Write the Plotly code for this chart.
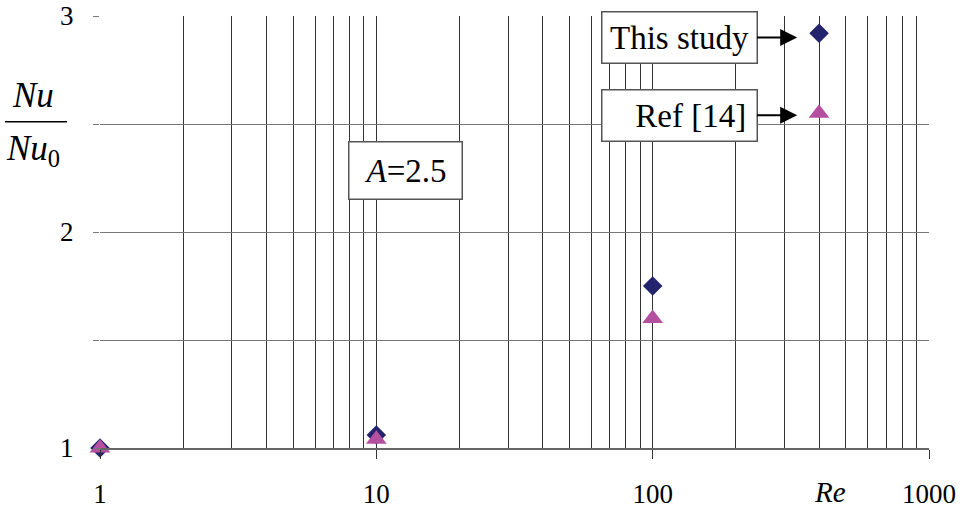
import plotly.graph_objects as go

# Data
re_vals = [1, 10, 100, 400]
nu_this_study = [1.0, 1.06, 1.75, 2.92]
nu_ref14 = [1.0, 1.04, 1.60, 2.55]
x_tick_vals = [1, 10, 100, 1000]
x_tick_text = ["1", "10", "100", "1000"]
y_tick_vals = [1, 1.5, 2, 2.5, 3]
y_tick_text = ["1", " ", "2", " ", "3"]
minor_x = [m * d for d in (1, 10, 100) for m in range(2, 10)]

FONT = "Liberation Serif, Times New Roman, serif"

fig = go.Figure()
fig.add_trace(go.Scatter(
    x=re_vals, y=nu_this_study, mode="markers", name="This study",
    marker=dict(symbol="diamond", size=15, color="#23236e"),
    cliponaxis=False))
fig.add_trace(go.Scatter(
    x=re_vals, y=nu_ref14, mode="markers", name="Ref [14]",
    marker=dict(symbol="triangle-up", size=18, color="#b4509f"),
    cliponaxis=False))

fig.update_layout(
    width=966, height=514,
    margin=dict(l=100, r=37, t=16, b=66, autoexpand=False),
    paper_bgcolor="white", plot_bgcolor="white",
    showlegend=False,
    font=dict(family=FONT, size=27, color="black"),
    xaxis=dict(
        type="log", range=[0, 3], automargin=False,
        tickvals=x_tick_vals, ticktext=x_tick_text,
        ticks="outside", ticklen=9, tickcolor="#333", tickwidth=1,
        showgrid=True, gridcolor="#333", gridwidth=1,
        showline=True, linecolor="#666", linewidth=2,
        zeroline=False, ticklabelstandoff=12,
        minor=dict(tickvals=minor_x, showgrid=True, gridcolor="#333",
                   gridwidth=1, ticks=""),
        tickfont=dict(family=FONT, size=27),
    ),
    yaxis=dict(
        range=[1, 3], automargin=False,
        tickvals=y_tick_vals, ticktext=y_tick_text,
        ticks="outside", ticklen=6, tickcolor="#777", tickwidth=1,
        showgrid=True, gridcolor="#777", gridwidth=1,
        showline=False, zeroline=False, ticklabelstandoff=14,
        tickfont=dict(family=FONT, size=27),
    ),
)

box = dict(bordercolor="#555", borderwidth=1.5, bgcolor="white",
           font=dict(family=FONT, size=33, color="black"),
           xanchor="center", yanchor="middle")

# "This study" box with arrow
fig.add_annotation(x=2.523, y=nu_this_study[3] - 0.02, xref="x", yref="y",
                   text="This study", showarrow=True, ax=-118, ay=0,
                   arrowhead=2, arrowsize=1.7, arrowwidth=2, arrowcolor="black",
                   width=150, height=46, borderpad=2, align="center", **box)
# "Ref [14]" box with arrow
fig.add_annotation(x=2.523, y=nu_ref14[3] - 0.01, xref="x", yref="y",
                   text="Ref [14]&nbsp;", showarrow=True, ax=-118, ay=0,
                   arrowhead=2, arrowsize=1.7, arrowwidth=2, arrowcolor="black",
                   width=150, height=46, borderpad=2, align="right", **box)
# A=2.5 box
fig.add_annotation(x=0.369, y=0.6435, xref="paper", yref="paper",
                   text="<i>A</i>=2.5", showarrow=False,
                   width=108, height=52, borderpad=2, align="center", **box)

# y-axis title as a fraction
fig.add_annotation(x=-0.081, y=0.817, xref="paper", yref="paper",
                   xanchor="center", yanchor="middle",
                   text="<i>Nu</i>", showarrow=False,
                   font=dict(family=FONT, size=35, color="black"))
fig.add_annotation(x=-0.081, y=0.688, xref="paper", yref="paper",
                   xanchor="center", yanchor="middle",
                   text="<i>Nu</i><sub>0</sub>", showarrow=False,
                   font=dict(family=FONT, size=35, color="black"))
fig.add_shape(type="line", xref="paper", yref="paper",
              x0=-0.1146, x1=-0.0398, y0=0.755, y1=0.755,
              line=dict(color="black", width=1.5))

# Re label
fig.add_annotation(x=0.880, y=-0.101, xref="paper", yref="paper",
                   xanchor="center", yanchor="middle",
                   text="<i>Re</i>", showarrow=False,
                   font=dict(family=FONT, size=29, color="black"))

fig.write_html("out.html", config={"displayModeBar": False},
               post_script="document.body.style.margin='0';document.body.style.overflow='hidden';")
